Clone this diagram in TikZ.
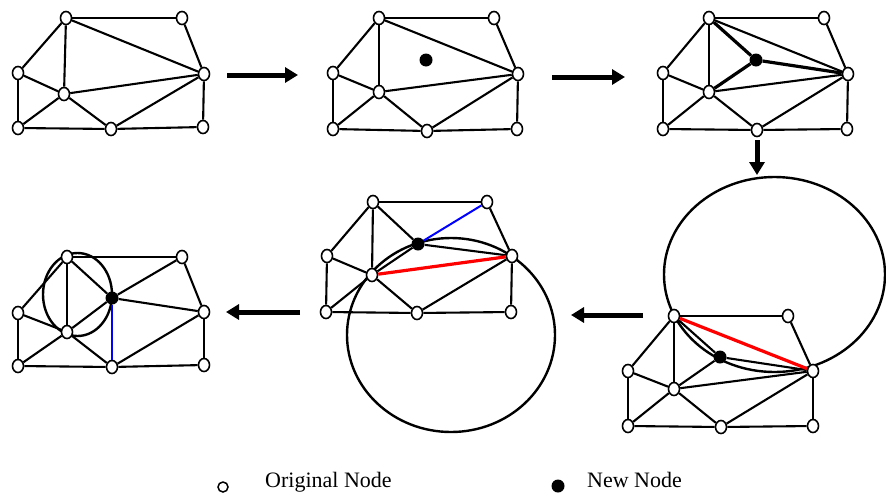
\documentclass[tikz,border=0pt]{standalone}
\usepackage{fontspec}
\setmainfont{Liberation Serif}
\usetikzlibrary{shapes.geometric,arrows.meta}
\begin{document}
\begin{tikzpicture}[x=1pt,y=-1pt,
 onode/.style={ellipse,draw,line width=1.6pt,fill=white,minimum width=11pt,minimum height=13pt,inner sep=0pt},
 nnode/.style={circle,fill=black,minimum size=13pt,inner sep=0pt},
 ln/.style={line width=2.1pt},
 thk/.style={line width=3.2pt},
 redln/.style={line width=3.2pt,red},
 blueln/.style={line width=2pt,blue},
 ring/.style={line width=2.4pt},
 flow/.style={line width=5pt,-{Triangle[length=13pt,width=15pt]}}
]
\useasboundingbox (0,0) rectangle (886,493);

% ---------- circles ----------
\draw[ring] (774.5,274.5) ellipse [x radius=110.5, y radius=97.5];
\draw[ring] (451,335) ellipse [x radius=104, y radius=97];
\draw[ring] (77.5,294.5) ellipse [x radius=34.5, y radius=41.5];

% ---------- panel 1 ----------
\node[onode] (a1) at (66,18) {};
\node[onode] (b1) at (182,18) {};
\node[onode] (c1) at (18,73) {};
\node[onode] (d1) at (64,94) {};
\node[onode] (e1) at (204,74) {};
\node[onode] (f1) at (18,128) {};
\node[onode] (g1) at (111,129) {};
\node[onode] (h1) at (203,127) {};
\foreach \u/\v in {a/b,b/e,a/c,a/d,a/e,c/d,c/f,d/e,d/f,d/g,g/e,f/g,g/h,e/h}
  \draw[ln] (\u1)--(\v1);

% ---------- panel 2 ----------
\node[onode] (a2) at (379,18) {};
\node[onode] (b2) at (494,18) {};
\node[onode] (c2) at (333,73) {};
\node[onode] (d2) at (379,92) {};
\node[onode] (e2) at (518,74) {};
\node[onode] (f2) at (333,129) {};
\node[onode] (g2) at (427,131) {};
\node[onode] (h2) at (517,129) {};
\node[nnode] (n2) at (426,60) {};
\foreach \u/\v in {a/b,b/e,a/c,a/d,a/e,c/d,c/f,d/e,d/f,d/g,g/e,f/g,g/h,e/h}
  \draw[ln] (\u2)--(\v2);

% ---------- panel 3 ----------
\node[onode] (a3) at (709,18) {};
\node[onode] (b3) at (824,18) {};
\node[onode] (c3) at (663,73) {};
\node[onode] (d3) at (709,92) {};
\node[onode] (e3) at (848,74) {};
\node[onode] (f3) at (663,129) {};
\node[onode] (g3) at (757,130) {};
\node[onode] (h3) at (847,129) {};
\node[nnode] (n3) at (756,60) {};
\foreach \u/\v in {a/b,b/e,a/c,a/d,a/e,c/d,c/f,d/e,d/f,d/g,g/e,f/g,g/h,e/h}
  \draw[ln] (\u3)--(\v3);
\foreach \v in {a,d,e}
  \draw[thk] (n3)--(\v3);

% ---------- panel 4 ----------
\node[onode] (a4) at (674,316) {};
\node[onode] (b4) at (788,316) {};
\node[onode] (c4) at (628,371) {};
\node[onode] (d4) at (674,389) {};
\node[onode] (e4) at (813,371) {};
\node[onode] (f4) at (628,426) {};
\node[onode] (g4) at (721,427) {};
\node[onode] (h4) at (813,426) {};
\node[nnode] (n4) at (720,357) {};
\foreach \u/\v in {a/b,b/e,a/c,a/d,c/d,c/f,d/e,d/f,d/g,g/e,f/g,g/h,e/h,n/a,n/d,n/e}
  \draw[ln] (\u4)--(\v4);
\draw[redln] (a4)--(e4);

% ---------- panel 5 ----------
\node[onode] (a5) at (373,202) {};
\node[onode] (b5) at (487,202) {};
\node[onode] (c5) at (327,256) {};
\node[onode] (d5) at (372,275) {};
\node[onode] (e5) at (512,256) {};
\node[onode] (f5) at (326,312) {};
\node[onode] (g5) at (417,313) {};
\node[onode] (h5) at (511,312) {};
\node[nnode] (n5) at (418,244) {};
\foreach \u/\v in {a/b,b/e,a/c,a/d,c/d,c/f,d/f,d/g,g/e,f/g,g/h,e/h,n/a,n/d,n/e}
  \draw[ln] (\u5)--(\v5);
\draw[blueln] (n5)--(b5);
\draw[redln] (d5)--(e5);

% ---------- panel 6 ----------
\node[onode] (a6) at (67,257) {};
\node[onode] (b6) at (182,257) {};
\node[onode] (c6) at (18,313) {};
\node[onode] (d6) at (67,332) {};
\node[onode] (e6) at (204,312) {};
\node[onode] (f6) at (18,366) {};
\node[onode] (g6) at (112,367) {};
\node[onode] (h6) at (204,365) {};
\node[nnode] (n6) at (112,298) {};
\foreach \u/\v in {a/b,b/n,b/e,a/c,a/d,a/n,c/d,c/f,d/f,d/n,d/g,g/e,f/g,g/h,e/h,n/e}
  \draw[ln] (\u6)--(\v6);
\draw[blueln] (n6)--(g6);

% ---------- flow arrows ----------
\coordinate (s1) at (227,75);  \coordinate (t1) at (298,75);
\coordinate (s2) at (552,77);  \coordinate (t2) at (625,77);
\coordinate (s3) at (757,140); \coordinate (t3) at (757,175);
\coordinate (s4) at (643,315); \coordinate (t4) at (571,315);
\coordinate (s5) at (300,312); \coordinate (t5) at (226,312);
\foreach \i in {1,...,5}
  \draw[flow] (s\i)--(t\i);

% ---------- legend ----------
\node[ellipse,draw,line width=1.5pt,minimum width=10pt,minimum height=10pt,inner sep=0pt] (lo) at (223,487) {};
\node[anchor=base west,font=\fontsize{22}{26}\selectfont,inner sep=0pt] (lt1) at (265,487) {Original Node};
\node[circle,fill=black,minimum width=13pt,inner sep=0pt] (ln) at (558,486) {};
\node[anchor=base west,font=\fontsize{22}{26}\selectfont,inner sep=0pt] (lt2) at (587,487) {New Node};
\end{tikzpicture}
\end{document}
